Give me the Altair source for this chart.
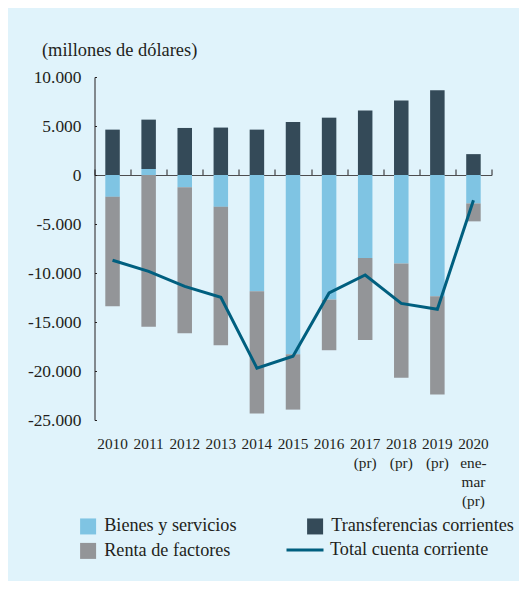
import altair as alt
import pandas as pd

years = ["2010", "2011", "2012", "2013", "2014", "2015", "2016",
         "2017 (pr)", "2018 (pr)", "2019 (pr)", "2020 ene- mar (pr)"]
bienes = [-2230, 610, -1250, -3250, -11870, -18290, -12710, -8480, -9030, -12370, -2900]
renta = [-11160, -15480, -14910, -14120, -12470, -5650, -5170, -8360, -11660, -10040, -1830]
transfer = [4630, 5040, 4800, 4840, 4630, 5410, 5850, 6590, 7600, 8650, 2130]
total = [-8700, -9840, -11360, -12470, -19700, -18500, -12030, -10200, -13100, -13700, -2570]

series_names = ["Bienes y servicios", "Renta de factores", "Transferencias corrientes"]
series_colors = ["#7fc4e3", "#939598", "#344a58"]
line_name = "Total cuenta corriente"
line_color = "#005f7f"
y_ticks = [10000, 5000, 0, -5000, -10000, -15000, -20000, -25000]
y_title = "(millones de dólares)"

rows = []
for i, yr in enumerate(years):
    rows.append({"year": yr, "serie": series_names[0], "value": bienes[i], "ord": 0})
    rows.append({"year": yr, "serie": series_names[1], "value": renta[i], "ord": 1})
    rows.append({"year": yr, "serie": series_names[2], "value": transfer[i], "ord": 2})
bars_df = pd.DataFrame(rows)
line_df = pd.DataFrame({"year": years, "value": total, "serie": [line_name] * len(years)})

W, H = 397, 343
ymin, ymax = -25000, 10000
zero_offset = -H * ymax / (ymax - ymin)
FONT = "Liberation Serif"
TXT = "#231f20"

xscale = alt.Scale(paddingInner=0, paddingOuter=0)
yscale = alt.Scale(domain=[ymin, ymax], nice=False)

bars = alt.Chart(bars_df).mark_bar(size=14.5).encode(
    x=alt.X("year:N", sort=years, scale=xscale,
            axis=alt.Axis(orient="bottom", domain=False, ticks=False, labelAngle=0,
                          labelExpr="split(datum.value, ' ')", labelFont=FONT,
                          labelFontSize=15.3, labelLineHeight=19, labelPadding=16,
                          labelColor=TXT, title=None, grid=False)),
    y=alt.Y("value:Q", stack="zero", scale=yscale,
            axis=alt.Axis(orient="left", values=y_ticks, ticks=False, domain=True,
                          domainColor=TXT, domainWidth=1, grid=False,
                          labelExpr="replace(replace(format(datum.value, ','), ',', '.'), '\u2212', '-')",
                          labelFont=FONT, labelFontSize=17.4, labelPadding=13.5, labelColor=TXT,
                          title=y_title, titleAngle=0, titleAlign="left",
                          titleBaseline="alphabetic", titleX=-53, titleY=-22,
                          titleFont=FONT, titleFontSize=18.4, titleFontWeight="normal",
                          titleColor=TXT)),
    color=alt.Color("serie:N", scale=alt.Scale(domain=series_names, range=series_colors),
                    legend=alt.Legend(orient="none", legendX=-15.5, legendY=440, columns=2,
                                      columnPadding=69, rowPadding=5.8, symbolType="square",
                                      symbolSize=256, symbolStrokeWidth=0, labelFont=FONT,
                                      labelFontSize=18.2, labelOffset=7, labelColor=TXT,
                                      title=None, padding=0, labelLimit=400)),
    order=alt.Order("ord:Q"),
)

line = alt.Chart(line_df).mark_line(strokeWidth=3).encode(
    x=alt.X("year:N", sort=years, scale=xscale,
            axis=alt.Axis(orient="top", offset=zero_offset, labels=False, domain=True,
                          domainColor="#4d4d4f", domainWidth=1.2, ticks=True, tickBand="extent",
                          tickSize=6, tickColor=TXT, title=None, grid=False)),
    y=alt.Y("value:Q", scale=yscale,
            axis=alt.Axis(orient="right", offset=-W, labels=False, domain=False, ticks=True,
                          tickSize=2, tickColor=TXT, values=y_ticks, title=None, grid=False)),
    stroke=alt.Stroke("serie:N", scale=alt.Scale(domain=[line_name], range=[line_color]),
                      legend=alt.Legend(orient="none", legendX=190.5, legendY=453,
                                        symbolType="stroke", symbolSize=1369,
                                        symbolStrokeWidth=3, labelFont=FONT, labelFontSize=18.2,
                                        labelOffset=5, labelColor=TXT, title=None, padding=0,
                                        labelLimit=400)),
)

chart = alt.layer(bars, line).resolve_axis(x="independent", y="independent").properties(
    width=W, height=H,
    autosize=alt.AutoSizeParams(type="none"),
    padding={"left": 86.5, "top": 69, "right": 27.5, "bottom": 161},
).configure(background="#e0f3fb").configure_view(stroke=None)

chart.save("out.html", embed_options={"renderer": "svg", "actions": False})
